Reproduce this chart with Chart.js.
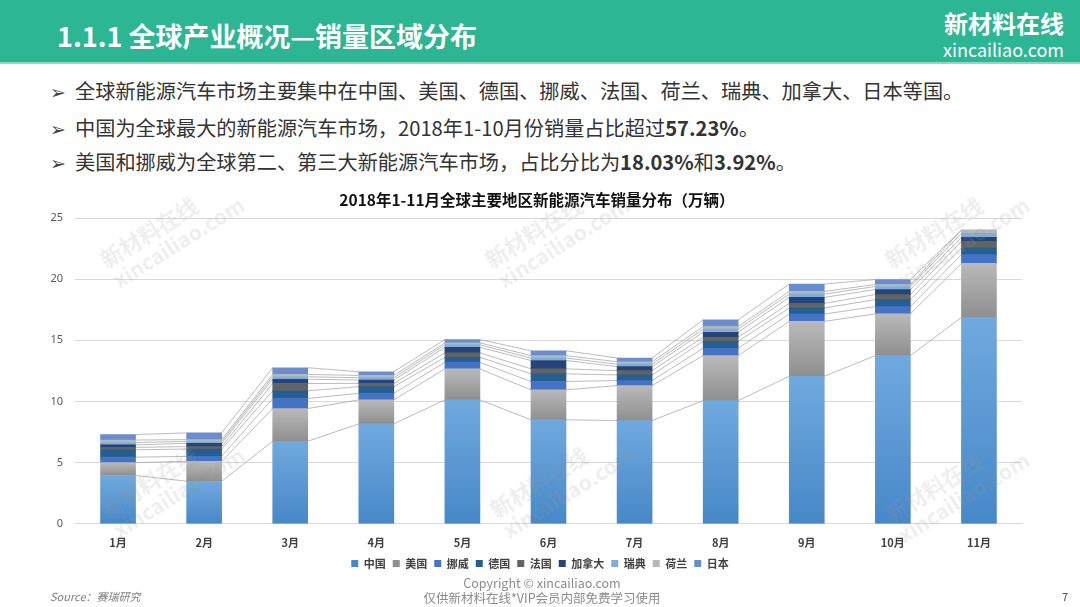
<!DOCTYPE html>
<html><head><meta charset="utf-8">
<script src="https://cdn.jsdelivr.net/npm/chart.js@4.4.0/dist/chart.umd.min.js"></script>
<style>
html,body{margin:0;padding:0;background:#fff;}
body{width:1080px;height:607px;position:relative;overflow:hidden;font-family:"Noto Sans CJK SC","Noto Sans",sans-serif;}
#hdr{position:absolute;left:0;top:0;width:1080px;height:62px;background:#2cb694;}
#hdrline{position:absolute;left:0;top:62px;width:1080px;height:2px;background:#8fd8c5;}
#ttl{position:absolute;left:57px;top:13px;color:#fff;font-size:27px;font-weight:bold;line-height:46px;white-space:nowrap;}
#logo1{position:absolute;left:944px;top:8px;color:#fff;font-size:24px;font-weight:bold;line-height:30px;}
#logo2{position:absolute;left:943px;top:39px;color:#fff;font-size:18px;line-height:20px;}
.bul{position:absolute;left:50px;font-size:20.2px;color:#333;white-space:nowrap;line-height:26px;}
.bul .ar{display:inline-block;width:25px;font-size:19px;vertical-align:top;color:#444;}
#ctitle{position:absolute;left:0;width:1074px;text-align:center;top:188px;font-size:15.5px;font-weight:bold;color:#111;line-height:22px;}
#src{position:absolute;left:50px;top:588px;font-size:11px;color:#7f7f7f;font-style:italic;}
#cp{position:absolute;left:0;width:1084px;text-align:center;top:575px;font-size:12.5px;color:#8c8c8c;line-height:15px;}
#pg{position:absolute;left:1062px;top:588px;font-size:11px;color:#555;}
#wrap{position:absolute;left:20px;top:185px;width:1010px;height:404px;}
.wm{position:absolute;color:rgba(150,150,150,0.16);font-weight:bold;transform:rotate(-32deg);transform-origin:left top;white-space:nowrap;pointer-events:none;line-height:1.15;}
.wm .a{font-size:22px;}
.wm .b{font-size:21px;}
</style></head>
<body>
<div id="hdr"></div><div id="hdrline"></div>
<div id="ttl">1.1.1 全球产业概况—销量区域分布</div>
<div id="logo1">新材料在线</div>
<div id="logo2">xincailiao.com</div>
<div class="bul" style="top:78px"><span class="ar">➢</span>全球新能源汽车市场主要集中在中国、美国、德国、挪威、法国、荷兰、瑞典、加拿大、日本等国。</div>
<div class="bul" style="top:115px"><span class="ar">➢</span>中国为全球最大的新能源汽车市场，2018年1-10月份销量占比超过<b>57.23%</b>。</div>
<div class="bul" style="top:149px"><span class="ar">➢</span>美国和挪威为全球第二、第三大新能源汽车市场，占比分比为<b>18.03%</b>和<b>3.92%</b>。</div>
<div id="wrap"><canvas id="c"></canvas></div>
<div id="ctitle"></div>
<div id="src">Source：赛瑞研究</div>
<div id="cp">Copyright © xincailiao.com<br>仅供新材料在线*VIP会员内部免费学习使用</div>
<div id="pg">7</div>
<div class="wm" style="left:95px;top:250px"><div class="a">新材料在线</div><div class="b">xincailiao.com</div></div>
<div class="wm" style="left:480px;top:250px"><div class="a">新材料在线</div><div class="b">xincailiao.com</div></div>
<div class="wm" style="left:880px;top:250px"><div class="a">新材料在线</div><div class="b">xincailiao.com</div></div>
<div class="wm" style="left:95px;top:500px"><div class="a">新材料在线</div><div class="b">xincailiao.com</div></div>
<div class="wm" style="left:485px;top:500px"><div class="a">新材料在线</div><div class="b">xincailiao.com</div></div>
<div class="wm" style="left:880px;top:505px"><div class="a">新材料在线</div><div class="b">xincailiao.com</div></div>
<script>
const months = ["1月","2月","3月","4月","5月","6月","7月","8月","9月","10月","11月"];
const seriesNames = ["中国","美国","挪威","德国","法国","加拿大","瑞典","荷兰","日本"];
const china   = [3.95, 3.48, 6.75, 8.17, 10.13, 8.50, 8.44, 10.07, 12.06, 13.75, 16.88];
const usa     = [1.05, 1.63, 2.67, 1.96, 2.53, 2.45, 2.86, 3.68, 4.49, 3.41, 4.41];
const norway  = [0.45, 0.40, 0.82, 0.54, 0.54, 0.68, 0.41, 0.60, 0.60, 0.60, 0.71];
const germany = [0.60, 0.60, 0.63, 0.54, 0.41, 0.63, 0.46, 0.57, 0.49, 0.57, 0.55];
const france  = [0.20, 0.20, 0.60, 0.27, 0.36, 0.41, 0.35, 0.33, 0.38, 0.41, 0.54];
const canada  = [0.20, 0.27, 0.35, 0.27, 0.46, 0.68, 0.33, 0.41, 0.49, 0.41, 0.33];
const sweden  = [0.20, 0.15, 0.20, 0.19, 0.20, 0.20, 0.20, 0.25, 0.27, 0.25, 0.33];
const netherlands = [0.20, 0.15, 0.19, 0.19, 0.16, 0.20, 0.20, 0.22, 0.22, 0.16, 0.27];
const japan   = [0.45, 0.55, 0.55, 0.30, 0.27, 0.40, 0.30, 0.55, 0.60, 0.41, 0.00];
const yTicks  = [0, 5, 10, 15, 20, 25];
const chartTitle = "2018年1-11月全球主要地区新能源汽车销量分布（万辆）";
document.getElementById('ctitle').textContent = chartTitle;

const seriesData = [china, usa, norway, germany, france, canada, sweden, netherlands, japan];
const solid = ["#5b9bd5","#a5a5a5","#4472c4","#255e91","#636363","#264478","#7cafdd","#b7b7b7","#698ed0"];
const grad = {0:["#70a9de","#4788c8"], 1:["#b9b9b9","#8f8f8f"]};

function cumAt(k, i){ let s=0; for(let j=0;j<=k;j++) s+=seriesData[j][i]; return s; }

function bg(k){
  return function(ctx){
    const chart = ctx.chart;
    if(!grad[k] || !chart.chartArea || ctx.type!=='data') return solid[k];
    const y = chart.scales.y;
    const i = ctx.dataIndex;
    const top = y.getPixelForValue(cumAt(k,i));
    const bot = y.getPixelForValue(cumAt(k,i)-seriesData[k][i]);
    if(!isFinite(top)||!isFinite(bot)||top===bot) return solid[k];
    const g = chart.ctx.createLinearGradient(0, top, 0, bot);
    g.addColorStop(0, grad[k][0]); g.addColorStop(1, grad[k][1]);
    return g;
  };
}

const seriesLines = {
  id:'seriesLines',
  beforeDatasetsDraw(chart){
    const c = chart.ctx, y = chart.scales.y;
    c.save(); c.strokeStyle='#a6a6a6'; c.lineWidth=0.75;
    for(let k=0;k<seriesData.length;k++){
      const meta = chart.getDatasetMeta(k);
      for(let i=0;i<months.length-1;i++){
        const a = meta.data[i], b = meta.data[i+1];
        c.beginPath();
        c.moveTo(a.x + a.width/2, y.getPixelForValue(cumAt(k,i)));
        c.lineTo(b.x - b.width/2, y.getPixelForValue(cumAt(k,i+1)));
        c.stroke();
      }
    }
    c.restore();
  }
};

const legendShift = {
  id:'legendShift',
  afterLayout(chart){
    const l = chart.legend; if(!l) return;
    l.left += 19; l.right += 19; l.top -= 10; l.bottom -= 10;
  }
};

new Chart(document.getElementById('c'), {
  type:'bar',
  data:{
    labels: months,
    datasets: seriesNames.map((n,k)=>({
      label:n, data:seriesData[k], backgroundColor:bg(k), borderWidth:0,
      barThickness:35, stack:'s'
    }))
  },
  plugins:[seriesLines, legendShift],
  options:{
    responsive:true, maintainAspectRatio:false, animation:false,
    layout:{padding:{left:0,right:8,top:33,bottom:0}},
    plugins:{
      title:{display:false},
      legend:{position:'bottom',labels:{boxWidth:7,boxHeight:7,padding:7,color:'#404040',font:{size:11,weight:'bold',family:'"Noto Sans CJK SC"'}}},
      tooltip:{enabled:false}
    },
    scales:{
      x:{stacked:true,grid:{display:false,drawTicks:false},border:{color:'#d9d9d9'},
         ticks:{color:'#404040',padding:12,font:{size:11,weight:'bold',family:'"Noto Sans CJK SC"'}}},
      y:{stacked:true,min:0,max:25,afterBuildTicks(s){s.ticks=yTicks.map(v=>({value:v}));},
         afterFit(s){s.width=55;},
         grid:{color:'#d9d9d9',drawTicks:false},border:{display:false},
         ticks:{color:'#595959',padding:12,font:{size:11,family:'"Noto Sans","Open Sans"'}}}
    }
  }
});
</script>
</body></html>
